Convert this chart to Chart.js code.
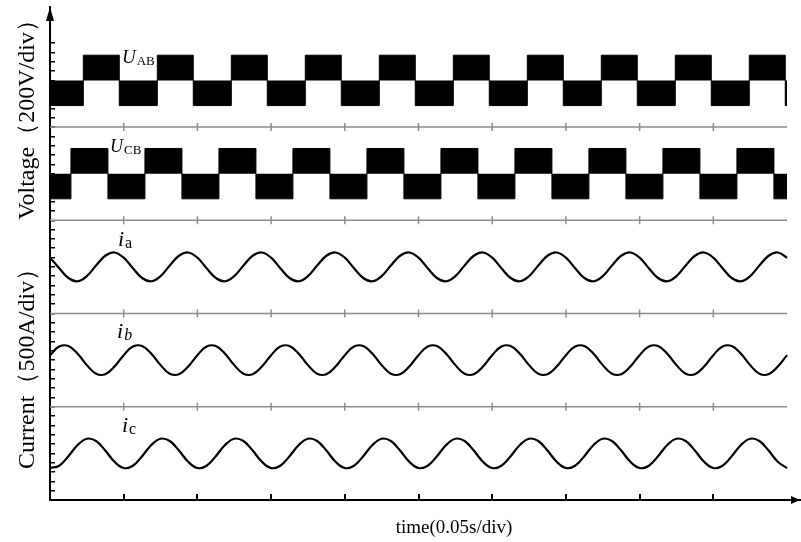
<!DOCTYPE html>
<html>
<head>
<meta charset="utf-8">
<script src="https://cdn.jsdelivr.net/npm/chart.js@4.4.0/dist/chart.umd.min.js"></script>
<style>
  html, body { margin: 0; padding: 0; background: #fff; }
  canvas { display: block; }
</style>
</head>
<body>
<canvas id="waveChart" width="801" height="542"></canvas>
<script>
// x ticks (s), one per 0.05 s division
const xTicks = [0.05, 0.1, 0.15, 0.2, 0.25, 0.3, 0.35, 0.4, 0.45];

// line voltages: switching instants (s) and level held after each instant (V)
const uabTimes = [0, 0.0226, 0.0470, 0.0728, 0.0972, 0.1230, 0.1474, 0.1732, 0.1976, 0.2234, 0.2478,
  0.2736, 0.2980, 0.3238, 0.3482, 0.3740, 0.3984, 0.4242, 0.4486, 0.4744, 0.4988, 0.5];
const uabLevels = [-540, 540, -540, 540, -540, 540, -540, 540, -540, 540, -540,
  540, -540, 540, -540, 540, -540, 540, -540, 540, -540, -540];
const ucbTimes = [0, 0.0142, 0.0393, 0.0644, 0.0895, 0.1146, 0.1397, 0.1648, 0.1899, 0.2150, 0.2401,
  0.2652, 0.2903, 0.3154, 0.3405, 0.3656, 0.3907, 0.4158, 0.4409, 0.4660, 0.4911, 0.5];
const ucbLevels = [-540, 540, -540, 540, -540, 540, -540, 540, -540, 540, -540,
  540, -540, 540, -540, 540, -540, 540, -540, 540, -540, -540];

// phase currents (A) read every 1/8 period
const sampleTimes = [
  0, 0.00625, 0.0125, 0.01875, 0.025, 0.03125, 0.0375, 0.04375,
  0.05, 0.05625, 0.0625, 0.06875, 0.075, 0.08125, 0.0875, 0.09375,
  0.1, 0.10625, 0.1125, 0.11875, 0.125, 0.13125, 0.1375, 0.14375,
  0.15, 0.15625, 0.1625, 0.16875, 0.175, 0.18125, 0.1875, 0.19375,
  0.2, 0.20625, 0.2125, 0.21875, 0.225, 0.23125, 0.2375, 0.24375,
  0.25, 0.25625, 0.2625, 0.26875, 0.275, 0.28125, 0.2875, 0.29375,
  0.3, 0.30625, 0.3125, 0.31875, 0.325, 0.33125, 0.3375, 0.34375,
  0.35, 0.35625, 0.3625, 0.36875, 0.375, 0.38125, 0.3875, 0.39375,
  0.4, 0.40625, 0.4125, 0.41875, 0.425, 0.43125, 0.4375, 0.44375,
  0.45, 0.45625, 0.4625, 0.46875, 0.475, 0.48125, 0.4875, 0.49375,
  0.5];
const iaValues = [
  494, -73, -597, -772, -494, 73, 597, 772,
  494, -73, -597, -772, -494, 73, 597, 772,
  494, -73, -597, -772, -494, 73, 597, 772,
  494, -73, -597, -772, -494, 73, 597, 772,
  494, -73, -597, -772, -494, 73, 597, 772,
  494, -73, -597, -772, -494, 73, 597, 772,
  494, -73, -597, -772, -494, 73, 597, 772,
  494, -73, -597, -772, -494, 73, 597, 772,
  494, -73, -597, -772, -494, 73, 597, 772,
  494, -73, -597, -772, -494, 73, 597, 772,
  494];
const ibValues = [
  268, 726, 759, 347, -268, -726, -759, -347,
  268, 726, 759, 347, -268, -726, -759, -347,
  268, 726, 759, 347, -268, -726, -759, -347,
  268, 726, 759, 347, -268, -726, -759, -347,
  268, 726, 759, 347, -268, -726, -759, -347,
  268, 726, 759, 347, -268, -726, -759, -347,
  268, 726, 759, 347, -268, -726, -759, -347,
  268, 726, 759, 347, -268, -726, -759, -347,
  268, 726, 759, 347, -268, -726, -759, -347,
  268, 726, 759, 347, -268, -726, -759, -347,
  268];
const icValues = [
  -786, -662, -150, 450, 786, 662, 150, -450,
  -786, -662, -150, 450, 786, 662, 150, -450,
  -786, -662, -150, 450, 786, 662, 150, -450,
  -786, -662, -150, 450, 786, 662, 150, -450,
  -786, -662, -150, 450, 786, 662, 150, -450,
  -786, -662, -150, 450, 786, 662, 150, -450,
  -786, -662, -150, 450, 786, 662, 150, -450,
  -786, -662, -150, 450, 786, 662, 150, -450,
  -786, -662, -150, 450, 786, 662, 150, -450,
  -786, -662, -150, 450, 786, 662, 150, -450,
  -786];

// each trace sits in its own 10-div band of the shared y axis
const VOLT_PER_DIV = 200;
const AMP_PER_DIV = 500;
const SERIF = '"Liberation Serif", "Times New Roman", serif';

function steps(times, levels, base) {
  return times.map((t, i) => ({ x: t, y: base + levels[i] / VOLT_PER_DIV }));
}
function wave(values, base) {
  return sampleTimes.map((t, i) => ({ x: t, y: base + values[i] / AMP_PER_DIV }));
}

const pwmStyle = {
  stepped: 'before',
  borderColor: '#000',
  backgroundColor: '#000',
  borderWidth: 1,
  pointRadius: 0
};
const sineStyle = {
  borderColor: '#000',
  borderWidth: 2.2,
  pointRadius: 0,
  fill: false,
  tension: 0.4
};

const traceLabels = [
  { main: 'U', sub: 'AB', t: 0.0488, v: 46.9, size: 19, subSize: 13, subItalic: false },
  { main: 'U', sub: 'CB', t: 0.0407, v: 37.3, size: 18, subSize: 13, subItalic: false },
  { main: 'i', sub: 'a', t: 0.0461, v: 27.2, size: 22, subSize: 16, subItalic: false },
  { main: 'i', sub: 'b', t: 0.0455, v: 17.4, size: 22, subSize: 16, subItalic: true },
  { main: 'i', sub: 'c', t: 0.0488, v: 7.3, size: 22, subSize: 16, subItalic: false }
];

const decor = {
  id: 'decor',
  beforeDatasetsDraw(chart) {
    const { ctx, scales: { x, y } } = chart;
    ctx.save();
    ctx.strokeStyle = '#8c8c8c';
    ctx.lineWidth = 1.5;
    [10, 20, 30, 40].forEach(v => {
      const py = y.getPixelForValue(v);
      ctx.beginPath();
      ctx.moveTo(x.getPixelForValue(0), py);
      ctx.lineTo(x.getPixelForValue(0.5), py);
      xTicks.forEach(t => {
        const px = x.getPixelForValue(t);
        ctx.moveTo(px, py - 4);
        ctx.lineTo(px, py + 4);
      });
      ctx.stroke();
    });
    ctx.restore();
  },
  afterDraw(chart) {
    const { ctx, chartArea, scales: { x, y } } = chart;
    ctx.save();
    ctx.fillStyle = '#000';

    // arrow heads
    const ax = chartArea.left, ay = chartArea.bottom;
    ctx.beginPath();
    ctx.moveTo(ax, chartArea.top);
    ctx.lineTo(ax - 4, chartArea.top + 14);
    ctx.lineTo(ax + 4, chartArea.top + 14);
    ctx.closePath();
    ctx.fill();
    ctx.beginPath();
    ctx.moveTo(chartArea.right, ay);
    ctx.lineTo(chartArea.right - 9, ay - 4);
    ctx.lineTo(chartArea.right - 9, ay + 4);
    ctx.closePath();
    ctx.fill();

    // trace names
    ctx.textBaseline = 'alphabetic';
    ctx.textAlign = 'left';
    traceLabels.forEach(l => {
      const px = x.getPixelForValue(l.t);
      const py = y.getPixelForValue(l.v);
      ctx.font = `italic ${l.size}px ${SERIF}`;
      ctx.fillText(l.main, px, py);
      const w = ctx.measureText(l.main).width;
      ctx.font = `${l.subItalic ? 'italic ' : ''}${l.subSize}px ${SERIF}`;
      ctx.fillText(l.sub, px + w + 1, py + 2);
    });

    // axis titles
    ctx.textAlign = 'center';
    ctx.font = `19px ${SERIF}`;
    ctx.fillText('time(0.05s/div)', 454, 533);

    ctx.font = `24px ${SERIF}`;
    [['Voltage（200V/div）', 41.4], ['Current（500A/div）', 14.7]].forEach(([text, v]) => {
      ctx.save();
      ctx.translate(34, y.getPixelForValue(v));
      ctx.rotate(-Math.PI / 2);
      ctx.fillText(text, 0, 0);
      ctx.restore();
    });
    ctx.restore();
  }
};

const ctx = document.getElementById('waveChart').getContext('2d');
const waveChart = new Chart(ctx, {
  type: 'line',
  data: {
    datasets: [
      { label: 'UAB', data: steps(uabTimes, uabLevels, 45), fill: { value: 45 }, ...pwmStyle },
      { label: 'UCB', data: steps(ucbTimes, ucbLevels, 35), fill: { value: 35 }, ...pwmStyle },
      { label: 'ia', data: wave(iaValues, 25), ...sineStyle },
      { label: 'ib', data: wave(ibValues, 15), ...sineStyle },
      { label: 'ic', data: wave(icValues, 5), ...sineStyle }
    ]
  },
  options: {
    responsive: false,
    animation: false,
    events: [],
    layout: { padding: { top: 7, right: 1, left: 0, bottom: 0 } },
    plugins: {
      legend: { display: false },
      tooltip: { enabled: false }
    },
    scales: {
      x: {
        type: 'linear',
        min: 0,
        max: 0.5088,
        afterFit: s => { s.height = 42; },
        afterBuildTicks: s => { s.ticks = xTicks.map(v => ({ value: v })); },
        ticks: { display: false },
        grid: { drawOnChartArea: false, tickLength: -6, color: '#000', lineWidth: 2 },
        border: { color: '#000', width: 2 }
      },
      y: {
        type: 'linear',
        min: 0,
        max: 52.87,
        afterFit: s => { s.width = 50; },
        afterBuildTicks: s => {
          s.ticks = [];
          for (let v = 1; v <= 49; v++) s.ticks.push({ value: v });
        },
        ticks: { display: false },
        grid: { drawOnChartArea: false, tickLength: -5, color: '#000', lineWidth: 1.5 },
        border: { color: '#000', width: 2 }
      }
    }
  },
  plugins: [decor]
});
</script>
</body>
</html>
